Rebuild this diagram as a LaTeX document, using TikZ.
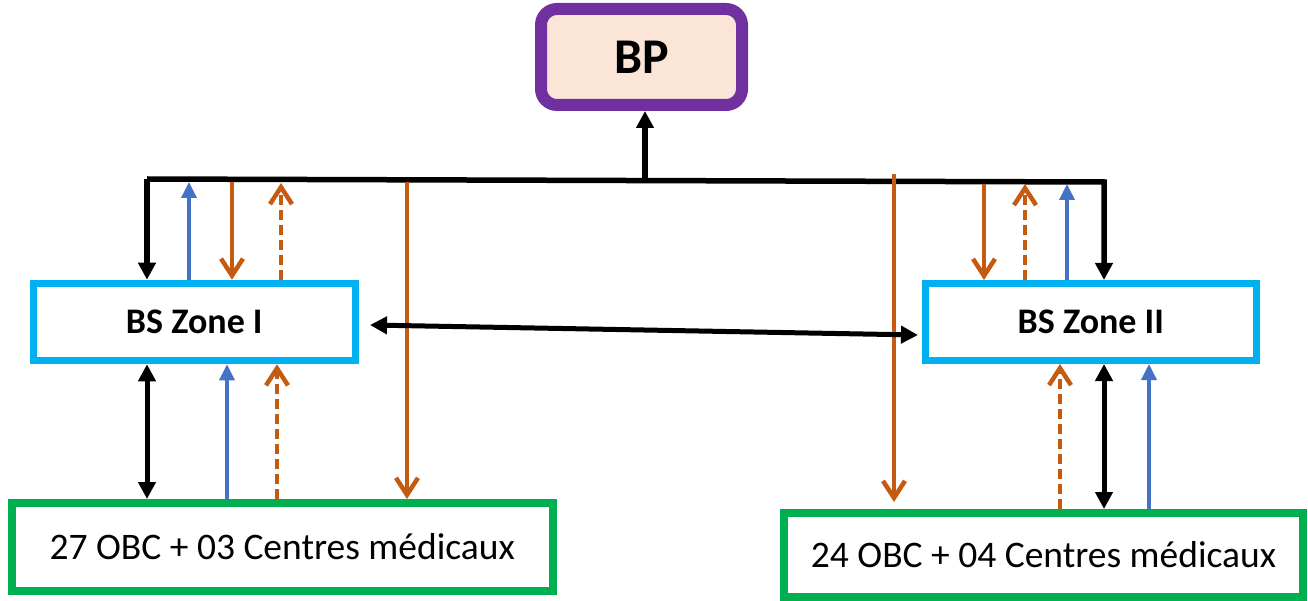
\documentclass[tikz,border=0pt]{standalone}
\usepackage{fontspec}
\setmainfont{Carlito}
\usetikzlibrary{arrows.meta}
\definecolor{bppurple}{HTML}{7030A0}
\definecolor{bpfill}{HTML}{FBE5D6}
\definecolor{zonecyan}{HTML}{00B0F0}
\definecolor{obcgreen}{HTML}{00B050}
\definecolor{flowblue}{HTML}{4472C4}
\definecolor{floworange}{HTML}{C55A11}
\begin{document}
\begin{tikzpicture}[x=1pt,y=-1pt,
  bpbox/.style={draw=bppurple, fill=bpfill, line width=12pt, outer sep=6pt, rounded corners=16pt,
    inner sep=0pt, minimum width=201pt, minimum height=96pt, font=\fontsize{50}{54}\selectfont\bfseries},
  zonebox/.style={draw=zonecyan, fill=white, line width=7pt, outer sep=3.5pt, inner sep=0pt,
    font=\fontsize{36}{40}\selectfont\bfseries},
  obcbox/.style={draw=obcgreen, fill=white, line width=8pt, outer sep=4pt, inner sep=0pt,
    font=\fontsize{37.5}{42}\selectfont},
  blkline/.style={line width=5.5pt, black, line join=miter},
  blkarrow/.style={line width=5.5pt, black, -{Triangle[width=17pt,length=17pt]}},
  blkdouble/.style={line width=5pt, black, {Triangle[width=17pt,length=17pt]}-{Triangle[width=17pt,length=17pt]}},
  bluearrow/.style={line width=3.5pt, flowblue, -{Triangle[width=15pt,length=16pt]}},
  orgarrow/.style={line width=3.5pt, floworange, -{Straight Barb[width=22pt,length=17pt,line width=4.5pt]}},
  orgdash/.style={orgarrow, dash pattern=on 10pt off 5pt},
]
\useasboundingbox (0,0) rectangle (1308,601);

% nodes
\node[bpbox] (bp) at (641.5,57) {BP};
\node[zonebox, minimum width=322.5pt, minimum height=77.5pt] (z1) at (194.25,322) {BS Zone I};
\node[zonebox, minimum width=330.5pt, minimum height=77pt] (z2) at (1090.75,322) {BS Zone II};
\node[obcbox, minimum width=541.5pt, minimum height=88pt] (g1) at (282.25,547) {27 OBC + 03 Centres médicaux};
\node[obcbox, minimum width=519pt, minimum height=84pt] (g2) at (1043.5,555) {24 OBC + 04 Centres médicaux};

% bus coordinates
\coordinate (busL) at (147,179);
\coordinate (busR) at (1104,182);
\coordinate (busM) at (645,180.5);

% bus with end arrows
\draw[blkline, -{Triangle[width=17pt,length=17pt]}] (busL) -- (busR) -- (z2.north -| busR);
\draw[blkarrow] (busL) -- (z1.north -| busL);
\draw[blkarrow] (busM) -- (bp.south -| busM);

% top-left flows
\coordinate (tB1) at (189,182);
\coordinate (tO1) at (232,182);
\coordinate (tD1) at (281,183);
\coordinate (tL1) at (407,182);
\draw[bluearrow] (z1.north -| tB1) -- (tB1);
\draw[orgarrow] (tO1) -- (z1.north -| tO1);
\draw[orgdash] (z1.north -| tD1) -- (tD1);
\draw[orgarrow] (tL1) -- (g1.north -| tL1);

% top-right flows
\coordinate (tL2) at (894,174);
\coordinate (tO2) at (984,184);
\coordinate (tD2) at (1025,184);
\coordinate (tB2) at (1067,184);
\draw[orgarrow, shorten >=7pt] (tL2) -- (g2.north -| tL2);
\draw[orgarrow] (tO2) -- (z2.north -| tO2);
\draw[orgdash] (z2.north -| tD2) -- (tD2);
\draw[bluearrow] (z2.north -| tB2) -- (tB2);

% between zones
\draw[blkdouble] ([xshift=11pt,yshift=-3pt]z1.east) -- ([xshift=-4pt,yshift=-13pt]z2.west);

% below zone I
\coordinate (bK1) at (147,0);
\coordinate (bB1) at (227,0);
\coordinate (bD1) at (277,0);
\draw[blkdouble] (z1.south -| bK1) -- (g1.north -| bK1);
\draw[bluearrow] (g1.north -| bB1) -- (z1.south -| bB1);
\draw[orgdash] (g1.north -| bD1) -- (z1.south -| bD1);

% below zone II
\coordinate (bD2) at (1060,0);
\coordinate (bK2) at (1104,0);
\coordinate (bB2) at (1149,0);
\draw[orgdash] (g2.north -| bD2) -- (z2.south -| bD2);
\draw[blkdouble] (z2.south -| bK2) -- (g2.north -| bK2);
\draw[bluearrow] (g2.north -| bB2) -- (z2.south -| bB2);
\end{tikzpicture}
\end{document}
